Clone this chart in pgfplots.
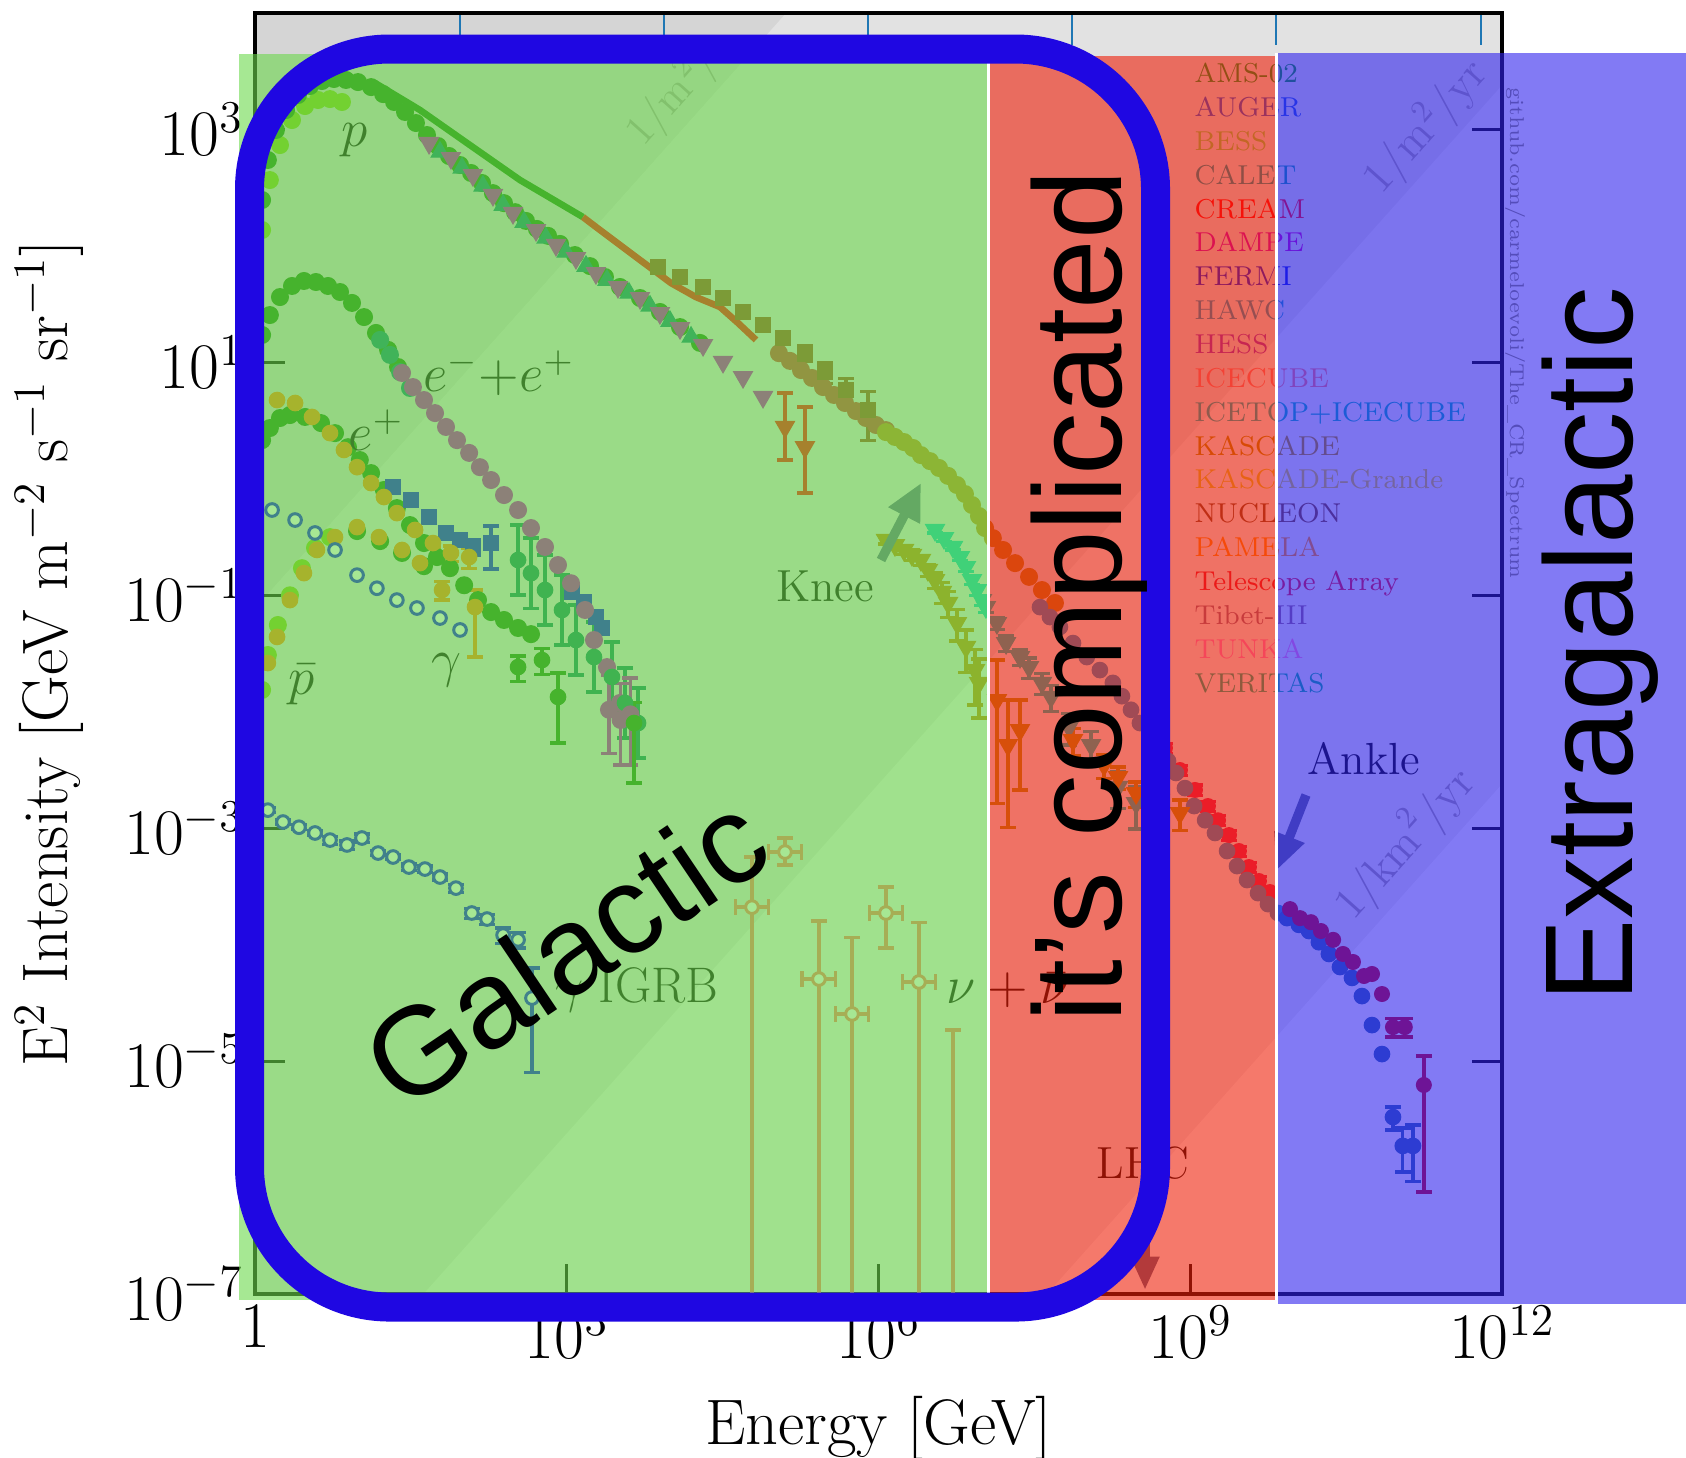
\RequirePackage{fix-cm}
\documentclass[border=0pt]{standalone}
\usepackage{fontspec}
\usepackage{pgfplots}
\pgfplotsset{compat=1.18}
\usetikzlibrary{arrows.meta}
\newfontfamily\arialfont{Liberation Sans}

\definecolor{ovgreen}{RGB}{107,216,75}
\definecolor{ovred}{RGB}{239,31,9}
\definecolor{ovblue}{RGB}{47,34,237}
\definecolor{rectblue}{RGB}{31,7,226}
\definecolor{cAMS}{RGB}{15,125,0}
\definecolor{cLight}{RGB}{128,200,12}
\definecolor{cDAMPE}{RGB}{190,0,188}
\definecolor{cTeal}{RGB}{0,125,112}
\definecolor{cCREAM}{RGB}{255,0,0}
\definecolor{cNUC}{RGB}{150,65,25}
\definecolor{cAPa}{RGB}{202,50,50}
\definecolor{cAPb}{RGB}{190,130,20}
\definecolor{cIceTop}{RGB}{42,140,200}
\definecolor{cCrim}{RGB}{230,28,88}
\definecolor{cAuger}{RGB}{42,100,170}
\definecolor{cTA}{RGB}{205,0,20}
\definecolor{cKas}{RGB}{190,125,0}
\definecolor{cCyan}{RGB}{0,200,188}
\definecolor{cKG}{RGB}{180,152,12}
\definecolor{cFermi}{RGB}{0,0,235}
\definecolor{cPam}{RGB}{255,125,0}
\definecolor{cHess}{RGB}{0,125,88}
\definecolor{cNu}{RGB}{255,112,100}
\definecolor{cArrow}{RGB}{90,100,135}
\definecolor{cTopTick}{RGB}{31,119,180}
\definecolor{cIso}{RGB}{165,160,160}
\definecolor{cGit}{RGB}{140,140,110}
\definecolor{cLa}{RGB}{10,150,40}
\definecolor{cLb}{RGB}{30,80,220}
\definecolor{cLc}{RGB}{130,210,80}
\definecolor{cLd}{RGB}{0,150,160}
\definecolor{cLe}{RGB}{255,0,12}
\definecolor{cLf}{RGB}{190,0,188}
\definecolor{cLg}{RGB}{0,20,220}
\definecolor{cLh}{RGB}{20,150,190}
\definecolor{cLi}{RGB}{140,50,190}
\definecolor{cLj}{RGB}{250,120,120}
\definecolor{cLk}{RGB}{0,180,180}
\definecolor{cLl}{RGB}{180,140,0}
\definecolor{cLm}{RGB}{220,200,40}
\definecolor{cLn}{RGB}{120,70,40}
\definecolor{cLo}{RGB}{255,140,10}
\definecolor{cLp}{RGB}{230,20,50}
\definecolor{cLq}{RGB}{142,102,137}
\definecolor{cLr}{RGB}{255,130,210}
\definecolor{cLs}{RGB}{0,180,140}

\pgfplotsset{
  dot/.style={only marks, mark=*, mark size=2.5pt},
  sdot/.style={only marks, mark=*, mark size=2.3pt},
  dtri/.style={only marks, mark=triangle*, mark size=3.2pt, mark options={rotate=180}},
  utri/.style={only marks, mark=triangle*, mark size=3pt},
  ocirc/.style={only marks, mark=*, mark size=1.9pt, mark options={fill=white, line width=0.9pt}},
}

\begin{document}
\begin{tikzpicture}
\useasboundingbox (0,0) rectangle (505.8pt,-437.1pt);
\begin{axis}[
  at={(76.5pt,-388.2pt)}, anchor=south west,
  scale only axis, width=374.1pt, height=384.3pt,
  xmode=log, ymode=log,
  xmin=1, xmax=1e12, ymin=1e-7, ymax=1e4,
  xtick={1,1e3,1e6,1e9,1e12},
  xticklabels={$1$,$10^{3}$,$10^{6}$,$10^{9}$,$10^{12}$},
  ytick={1e-7,1e-5,1e-3,1e-1,1e1,1e3},
  minor xtick={}, minor ytick={},
  xtick pos=left, ytick pos=both, tick align=inside,
  major tick length=9pt,
  major tick style={black, line width=0.9pt},
  axis line style={line width=1pt},
  tick label style={font=\fontsize{19.5}{19.5}\selectfont},
  xlabel={Energy [GeV]},
  ylabel={E$^2$ Intensity [GeV m$^{-2}$ s$^{-1}$ sr$^{-1}$]},
  label style={font=\fontsize{19.3}{19.3}\selectfont},
  xlabel style={at={(axis description cs:0.5,-0.1046)}, anchor=center},
  ylabel style={at={(axis description cs:-0.165,0.5)}, anchor=center},
  error bars/error bar style={line width=1pt},
  error bars/error mark options={rotate=90, line width=1pt, mark size=2.4pt},
]
% background iso-flux bands
\addplot[draw=none, fill=black, fill opacity=0.06] coordinates {(1,1e-7) (4.17e7,1e-7) (1e12,2.40e-3) (1e12,1e4) (1,1e4)};
\addplot[draw=none, fill=black, fill opacity=0.06] coordinates {(1,1e-7) (41.7,1e-7) (1e12,2.40e3) (1e12,1e4) (1,1e4)};
\addplot[draw=none, fill=black, fill opacity=0.06] coordinates {(1,0.0776) (1,1e4) (1.29e5,1e4)};

% ---- protons ----
\addplot[dot, color=cLight] coordinates {(1.17,137) (1.39,368) (1.74,735) (2.27,1205) (3.03,1589) (4.04,1791) (5.27,1824) (6.87,1722)};
\addplot[dot, color=cAMS] coordinates {(1.17,248) (1.33,547) (1.59,989) (1.99,1469) (2.59,1977) (3.38,2361) (4.41,2606) (5.75,2712) (7.51,2661) (9.80,2553) (13.1,2312) (17.1,2014) (21.8,1722) (27.8,1413) (35.4,1136) (45.2,896) (57.7,721) (73.6,592) (94.0,495) (120,423) (153,347) (195,284) (249,233) (318,195) (405,164) (517,140) (661,122) (861,104) (1200,83.5) (1675,67.1) (2333,54.1) (3252,44.4) (5070,35.7) (7890,27.1) (12300,20.1) (19150,14.7)};
\addplot[color=cAMS, line width=2pt, mark=none] coordinates {(14.3,2506) (38.7,1469) (117,735) (355,368) (1432,177)};
\addplot[color=cCREAM, line width=2pt, mark=none] coordinates {(1432,177) (2089,137) (4634,80.4) (10070,48.0) (17500,36.4) (29850,29.9) (44460,21.8) (66260,15.6)};
\addplot[utri, color=cTeal] coordinates {(60.3,640) (98.2,467) (156,327) (244,224) (388,160) (631,117) (984,88.7) (1531,67.1) (2438,50.9) (3972,39.4) (6324,30.5) (9840,22.6) (15700,16.5)};
\addplot[dtri, color=cDAMPE] coordinates {(47.3,766) (76.9,569) (125,406) (195,274) (304,192) (506,137) (788,102) (1227,78.7) (1910,58.5) (3112,44.4) (5070,35.7) (7890,26.5) (12300,19.7) (20500,14.1) (31900,10.1) (49700,7.48) (77400,5.05)};
\addplot[dot, color=cAPa] coordinates {(110200,12.0) (140600,10.3) (179500,8.59) (229100,7.35) (292400,6.14) (373200,5.25) (475500,4.48) (606900,3.82) (758600,3.33) (946500,2.90) (1.18e6,2.62)};
\addplot[only marks, mark=square*, mark size=2.3pt, color=cNUC, error bars/.cd, y dir=both, y explicit relative] coordinates {
 (7551,65.9) +- (0,0.08) (12300,54.1) +- (0,0.08) (20470,44.4) +- (0,0.08) (31900,35.7) +- (0,0.1)
 (49660,27.1) +- (0,0.1) (77450,20.9) +- (0,0.1) (120500,16.2) +- (0,0.12) (196300,12.0) +- (0,0.15)
 (305500,8.26) +- (0,0.2) (486400,5.79) +- (0,0.25) (792500,3.90) +- (0,0.45)};
\addplot[dtri, color=cCREAM, error bars/.cd, y dir=both, y explicit] coordinates {
 (1.26e5,2.79) += (0,2.67) -= (0,1.34) (1.96e5,1.87) += (0,2.27) -= (0,1.115)};

% ---- all-particle ----
\addplot[dot, color=cAPb] coordinates {(1.18e6,2.52) (1.44e6,2.29) (1.76e6,2.07) (2.15e6,1.84) (2.56e6,1.60) (3.13e6,1.42) (3.82e6,1.24) (4.67e6,1.06) (5.69e6,0.885) (6.79e6,0.741) (7.94e6,0.596) (9.27e6,0.480) (1.06e7,0.378) (1.26e7,0.310) (1.58e7,0.245) (2.06e7,0.189) (2.81e7,0.144) (3.74e7,0.111) (4.99e7,0.0859)};
\addplot[only marks, mark=*, mark size=2.2pt, color=cCrim, error bars/.cd, y dir=both, y explicit relative] coordinates {
 (4.10e8,0.00724) +- (0,0.1) (5.71e8,0.00488) +- (0,0.1) (7.96e8,0.00316) +- (0,0.1) (1.11e9,0.00213) +- (0,0.1)
 (1.48e9,0.00155) +- (0,0.1) (1.85e9,0.00117) +- (0,0.1) (2.36e9,8.73e-4) +- (0,0.1) (2.94e9,6.37e-4) +- (0,0.1)
 (3.67e9,4.64e-4) +- (0,0.1) (4.58e9,3.52e-4) +- (0,0.1) (5.85e9,2.83e-4) +- (0,0.1)};
\addplot[only marks, mark=*, mark size=2.3pt, color=cIceTop] coordinates {(3.58e7,0.0792) (4.47e7,0.0650) (5.57e7,0.0535) (7.44e7,0.0389) (1.01e8,0.0295) (1.35e8,0.0228) (1.80e8,0.0177) (2.20e8,0.0136) (2.69e8,0.0104) (3.28e8,0.0080) (4.10e8,0.00620) (5.00e8,0.00479) (6.11e8,0.00378) (7.29e8,0.00298) (8.89e8,0.00221) (1.09e9,0.00155) (1.39e9,0.00117) (1.73e9,9.10e-4) (2.26e9,6.37e-4) (2.82e9,4.73e-4) (3.52e9,3.59e-4) (4.49e9,2.77e-4) (5.60e9,2.23e-4) (6.98e9,1.87e-4)};
\addplot[only marks, mark=*, mark size=2.3pt, color=cAuger] coordinates {(8.53e9,1.69e-4) (1.11e10,1.48e-4) (1.39e10,1.31e-4) (1.73e10,1.05e-4) (2.16e10,8.32e-5) (2.76e10,6.43e-5) (3.60e10,5.18e-5) (4.49e10,3.62e-5) (5.61e10,2.04e-5) (7.00e10,1.15e-5)};
\addplot[only marks, mark=*, mark size=2.3pt, color=cAuger, error bars/.cd, y dir=both, y explicit] coordinates {
 (8.93e10,3.31e-6) += (0,0.73e-6) -= (0,0.75e-6) (1.11e11,1.87e-6) += (0,0.79e-6) -= (0,0.75e-6) (1.39e11,1.87e-6) += (0,0.95e-6) -= (0,0.94e-6)};
\addplot[only marks, mark=*, mark size=2.2pt, color=cTA] coordinates {(9.12e9,2.02e-4) (1.14e10,1.69e-4) (1.45e10,1.56e-4) (1.81e10,1.31e-4) (2.37e10,1.10e-4) (2.95e10,8.32e-5) (3.68e10,7.10e-5) (4.70e10,5.38e-5) (5.61e10,5.60e-5) (7.00e10,3.77e-5)};
\addplot[only marks, mark=*, mark size=2.2pt, color=cTA, error bars/.cd, y dir=both, y explicit] coordinates {
 (8.93e10,1.96e-5) +- (0,0.35e-5) (1.16e11,1.96e-5) +- (0,0.35e-5) (1.77e11,6.24e-6) += (0,4.86e-6) -= (0,5.49e-6)};

% ---- knee region ----
\addplot[dtri, color=cKas, error bars/.cd, y dir=both, y explicit relative] coordinates {
 (1.18e6,0.299) +- (0,0.08) (1.44e6,0.270) +- (0,0.08) (1.76e6,0.245) +- (0,0.08) (2.10e6,0.222) +- (0,0.1)
 (2.56e6,0.201) +- (0,0.1) (2.99e6,0.165) +- (0,0.12) (3.50e6,0.135) +- (0,0.15) (4.08e6,0.107) +- (0,0.2)
 (4.67e6,0.0859) +- (0,0.25) (5.69e6,0.0578) +- (0,0.3) (6.95e6,0.0360) +- (0,0.4) (8.49e6,0.0228) +- (0,0.5)
 (9.27e6,0.0177) += (0,0.6) -= (0,0.5)};
\addplot[dtri, color=cCyan, error bars/.cd, y dir=both, y explicit relative] coordinates {
 (3.50e6,0.364) +- (0,0.06) (4.27e6,0.310) +- (0,0.06) (5.21e6,0.260) +- (0,0.06) (6.08e6,0.213) +- (0,0.06)
 (6.95e6,0.175) +- (0,0.08) (7.94e6,0.135) +- (0,0.08) (8.87e6,0.111) +- (0,0.1) (9.91e6,0.091) +- (0,0.1)
 (1.08e7,0.0792) +- (0,0.1) (1.38e7,0.0578) +- (0,0.12) (1.69e7,0.0389) +- (0,0.15) (2.30e7,0.0295) +- (0,0.15)
 (2.81e7,0.0242) +- (0,0.2) (3.74e7,0.0177) +- (0,0.2) (4.57e7,0.0134) +- (0,0.25) (6.81e7,0.00740) +- (0,0.3)
 (1.11e8,0.00518) +- (0,0.3) (2.02e8,0.00226) +- (0,0.35) (3.01e8,0.00164) +- (0,0.4)};
\addplot[dtri, color=cKG, error bars/.cd, y dir=both, y explicit] coordinates {
 (1.38e7,0.0126) += (0,0.0152) -= (0,0.01096) (1.76e7,0.00518) += (0,0.00742) -= (0,0.00416)
 (2.30e7,0.00697) += (0,0.00563) -= (0,0.00484) (7.44e7,0.00571) +- (0,0.0015) (1.48e8,0.00349) +- (0,0.0008)
 (2.02e8,0.00275) +- (0,0.0006) (3.01e8,0.00200) +- (0,0.0005) (5.12e8,0.00175) +- (0,0.0004) (7.96e8,0.00135) +- (0,0.0004)};

% ---- electrons + positrons ----
\addplot[dot, color=cAMS] coordinates {(1.17,17.2) (1.39,25.5) (1.74,36.4) (2.27,45.3) (2.96,50.0) (3.86,49.0) (5.04,45.3) (6.58,40.2) (8.58,32.4) (11.2,24.5) (14.6,17.9) (19.1,12.8) (23.8,9.12)};
\addplot[dot, color=cTeal] coordinates {(16.0,15.6) (19.9,11.6) (24.9,8.26) (31.0,6.03)};
\addplot[only marks, mark=square*, mark size=2.3pt, color=cFermi] coordinates {(1124,0.107) (1466,0.0875) (1910,0.0650) (2183,0.0524)};
\addplot[dot, color=cDAMPE] coordinates {(26.0,8.11) (33.1,6.14) (42.3,4.75) (54.0,3.67) (68.9,2.79) (87.9,2.15) (115,1.67) (146,1.26) (187,0.977) (249,0.726) (340,0.540) (453,0.378) (618,0.260) (824,0.182) (1099,0.127) (1500,0.0748) (1829,0.0413) (2440,0.0242) (3252,0.0119)};
\addplot[sdot, color=cHess, error bars/.cd, y dir=both, y explicit relative] coordinates {
 (340,0.201) += (0,1.0) -= (0,0.5) (453,0.155) += (0,1.0) -= (0,0.5) (618,0.111) += (0,1.0) -= (0,0.5)
 (900,0.0748) += (0,1.0) -= (0,0.5) (1227,0.0413) += (0,1.0) -= (0,0.5) (1829,0.0295) += (0,1.0) -= (0,0.5)
 (2723,0.0199) += (0,1.0) -= (0,0.5) (3637,0.0119) += (0,1.0) -= (0,0.5) (4853,0.00800) += (0,1.0) -= (0,0.5)};
\addplot[dot, color=cDAMPE, error bars/.cd, y dir=both, y explicit] coordinates {
 (2550,0.0104) += (0,0.010) -= (0,0.006) (3300,0.0085) += (0,0.009) -= (0,0.005) (4100,0.0095) += (0,0.010) -= (0,0.006)};
\addplot[dot, color=cAMS] coordinates {(1.17,2.15) (1.39,2.73) (1.74,3.33) (2.17,3.53) (3.03,3.40) (4.32,3.01) (5.89,2.47) (7.85,1.87) (10.2,1.45) (13.1,1.12) (17.4,0.802) (23.2,0.561) (31.0,0.401) (42.3,0.281) (56.4,0.213) (75.2,0.171) (103,0.122) (140,0.0910) (187,0.0718) (249,0.0614) (340,0.0524) (453,0.0464)};
\addplot[only marks, mark=square*, mark size=2.3pt, color=cFermi, error bars/.cd, y dir=both, y explicit relative] coordinates {
 (21.3,0.851) +- (0,0.05) (31.7,0.658) +- (0,0.05) (47.2,0.470) +- (0,0.05) (68.9,0.343) +- (0,0.06)
 (94.0,0.299) +- (0,0.08) (125,0.260) +- (0,0.15) (187,0.281) +- (0,0.4)};
\addplot[sdot, color=cPam, error bars/.cd, y dir=both, y explicit relative] coordinates {
 (1.63,4.75) +- (0,0.02) (2.43,4.48) +- (0,0.02) (3.54,3.40) +- (0,0.02) (5.27,2.47) +- (0,0.02) (7.18,1.77) +- (0,0.02)
 (9.59,1.26) +- (0,0.02) (13.1,0.920) +- (0,0.02) (17.4,0.698) +- (0,0.03) (23.2,0.508) +- (0,0.03)
 (34.7,0.364) +- (0,0.05) (51.6,0.281) +- (0,0.08) (76.9,0.231) +- (0,0.15) (115,0.213) +- (0,0.2)};

% ---- antiprotons ----
\addplot[dot, color=cLight] coordinates {(1.17,0.0154) (1.33,0.0307) (1.66,0.0556) (2.17,0.100) (2.83,0.171) (3.78,0.255) (5.27,0.316)};
\addplot[dot, color=cAMS] coordinates {(9.59,0.356) (16.0,0.292) (26.0,0.231) (42.3,0.178)};
\addplot[sdot, color=cPam, error bars/.cd, y dir=both, y explicit] coordinates {
 (1.33,0.0262) (1.63,0.0439) (2.17,0.0910) (2.96,0.155) (3.95,0.245) (5.89,0.316) (9.59,0.385)
 (15.6,0.316) (26.0,0.245) (38.7,0.189) (63.1,0.111) +- (0,0.02) (131,0.0792) += (0,0.0318) -= (0,0.0497)};

% ---- gamma rays ----
\addplot[ocirc, color=cFermi] coordinates {(1.46,0.540) (2.43,0.443) (3.78,0.343) (5.89,0.245) (9.59,0.149) (14.9,0.115) (23.2,0.0910) (36.2,0.0778) (60.3,0.0638) (94.0,0.0504)};
\addplot[sdot, color=cAMS, error bars/.cd, y dir=both, y explicit] coordinates {
 (340,0.0242) +- (0,0.006) (578,0.0278) +- (0,0.007) (824,0.0134) += (0,0.0081) -= (0,0.00802) (4437,0.0080) += (0,0.004) -= (0,0.00556)};
\addplot[ocirc, color=cFermi, error bars/.cd, y dir=both, y explicit relative] coordinates {
 (1.33,0.00143) +- (0,0.05) (1.86,0.00113) +- (0,0.05) (2.65,0.00102) +- (0,0.05) (3.78,9.10e-4) +- (0,0.05)
 (5.27,7.91e-4) +- (0,0.08) (7.68,7.18e-4) +- (0,0.08) (10.7,8.24e-4) +- (0,0.08) (15.3,6.12e-4) +- (0,0.05)
 (21.3,5.66e-4) +- (0,0.05) (30.3,4.64e-4) +- (0,0.06) (43.2,4.46e-4) +- (0,0.06) (60.3,3.81e-4) +- (0,0.06)
 (85.9,3.06e-4) +- (0,0.08) (122,1.87e-4) +- (0,0.1) (171,1.66e-4) +- (0,0.1) (244,1.21e-4) +- (0,0.15)
 (340,1.10e-4) +- (0,0.15) (463,3.48e-5) += (0,0.81) -= (0,0.77)};

% ---- neutrinos ----
\addplot[ocirc, color=cNu, error bars/.cd, x dir=both, x explicit relative, y dir=both, y explicit] coordinates {
 (60600,2.10e-4) += (0.45,3.56e-4) -= (0.31,2.0999e-4)
 (1.26e5,6.24e-4) += (0.45,2.0e-4) -= (0.31,1.41e-4)
 (2.67e5,5.07e-5) += (0.45,1.093e-4) -= (0.31,5.069e-5)
 (5.56e5,2.54e-5) += (0.45,9.06e-5) -= (0.31,2.539e-5)
 (1.18e6,1.87e-4) += (0.45,1.26e-4) -= (0.31,0.935e-4)
 (2.45e6,4.78e-5) += (0.45,1.082e-4) -= (0.31,4.779e-5)};
\addplot[only marks, mark=-, mark size=2.4pt, mark options={line width=1pt}, color=cNu, error bars/.cd, y dir=minus, y explicit] coordinates {
 (5.21e6,1.85e-5) -= (0,1.849e-5)};
\end{axis}

\begin{scope}[x=0.3pt,y=-0.3pt]
% top axis ticks
\foreach \tx in {460,664,868,1072,1276,1481} {\draw[cTopTick, line width=0.8pt] (\tx,15) -- (\tx,45);}
% iso-flux labels
\node[rotate=48.2, anchor=base west, text=cIso, font=\fontsize{12.8}{12.8}\selectfont] at (636,156) {$1/\mathrm{m}^2/\mathrm{s}$};
\node[rotate=48.2, anchor=base west, text=cIso, font=\fontsize{13.5}{13.5}\selectfont] at (1374,204) {$1/\mathrm{m}^2/\mathrm{yr}$};
\node[rotate=48.2, anchor=base west, text=cIso, font=\fontsize{13.5}{13.5}\selectfont] at (1346,930) {$1/\mathrm{km}^2/\mathrm{yr}$};
% annotations
\node[font=\fontsize{16}{16}\selectfont] at (355,140) {$p$};
\node[font=\fontsize{16}{16}\selectfont] at (499,373) {$e^-{+}e^+$};
\node[font=\fontsize{16}{16}\selectfont] at (376,430) {$e^+$};
\node[font=\fontsize{16}{16}\selectfont] at (302,685) {$\bar{p}$};
\node[font=\fontsize{16}{16}\selectfont] at (446,670) {$\gamma$};
\node[font=\fontsize{15}{15}\selectfont] at (637,990) {$\gamma$ IGRB};
\node[font=\fontsize{13.5}{13.5}\selectfont] at (825,586) {Knee};
\node[font=\fontsize{16}{16}\selectfont] at (1008,990) {$\nu+\bar{\nu}$};
\node[font=\fontsize{13.5}{13.5}\selectfont] at (1364,759) {Ankle};
\node[font=\fontsize{13.5}{13.5}\selectfont] at (1143,1163) {LHC};
% arrows
\draw[cArrow, line width=2.8pt, -{Triangle[length=11pt,width=10pt]}] (881,560) -- (921,483);
\draw[cArrow, line width=2.8pt, -{Triangle[length=11pt,width=9pt]}] (1306,795) -- (1276,871);
\draw[cArrow, line width=2.8pt, -{Triangle[length=10pt,width=8pt]}] (1145,1215) -- (1145,1290);
% experiment list
\foreach \nm/\cl [count=\i from 0] in {AMS-02/cLa, AUGER/cLb, BESS/cLc, CALET/cLd, CREAM/cLe, DAMPE/cLf, FERMI/cLg, HAWC/cLh, HESS/cLi, ICECUBE/cLj, ICETOP+ICECUBE/cLk, KASCADE/cLl, KASCADE-Grande/cLm, NUCLEON/cLn, PAMELA/cLo, Telescope Array/cLp, Tibet-III/cLq, TUNKA/cLr, VERITAS/cLs}
  {\node[anchor=base west, inner sep=0pt, text=\cl, font=\fontsize{8.2}{8.2}\selectfont] at (1194,{82.6+33.86*\i}) {\nm};}
\node[rotate=-90, anchor=base, inner sep=0pt, text=cGit, font=\fontsize{6}{6}\selectfont] at (1510,333) {github.com/carmeloevoli/The\_CR\_Spectrum};
% translucent overlays
\fill[ovgreen, fill opacity=0.6] (239,54) rectangle (987,1300);
\fill[ovred, fill opacity=0.6] (990,56) rectangle (1275,1300);
\fill[ovblue, fill opacity=0.6] (1278,53) rectangle (1686,1304);
\draw[white, line width=0.9pt] (988.5,54) -- (988.5,1300);
\draw[white, line width=0.9pt] (1276.5,53) -- (1276.5,1304);
% rounded frame
\draw[rectblue, line width=8.7pt, rounded corners=42pt] (249.5,49) rectangle (1155.5,1307);
% big labels
\node[rotate=34, font=\arialfont\fontsize{37.5}{40}\selectfont] at (565,950) {Galactic};
\node[rotate=90, anchor=base, font=\arialfont\fontsize{37.5}{40}\selectfont] at (1121,596) {it’s complicated};
\node[rotate=90, anchor=base, font=\arialfont\fontsize{37.5}{40}\selectfont] at (1632,645) {Extragalactic};
\end{scope}
\end{tikzpicture}
\end{document}
